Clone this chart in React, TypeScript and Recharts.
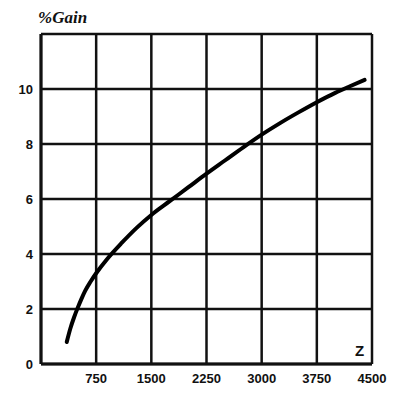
import { LineChart, Line, XAxis, YAxis, CartesianGrid } from "recharts";

// Z values
const zValues = [350, 400, 450, 500, 550, 600, 675, 750, 900, 1100, 1300, 1500, 1750, 2000, 2250, 2500, 2750, 3000, 3250, 3500, 3750, 4000, 4200, 4400];
// % gain at each Z
const gainValues = [0.8, 1.3, 1.7, 2.05, 2.37, 2.66, 3.0, 3.3, 3.82, 4.41, 4.95, 5.42, 5.92, 6.42, 6.92, 7.4, 7.88, 8.34, 8.76, 9.15, 9.52, 9.86, 10.1, 10.33];

const xTicks = [0, 750, 1500, 2250, 3000, 3750, 4500];
const yTicks = [0, 2, 4, 6, 8, 10, 12];

const data = zValues.map((z, i) => ({ z, gain: gainValues[i] }));

const tickStyle = {
  fontSize: 13,
  fontWeight: 700,
  fill: "#111",
  fontFamily: "'Liberation Sans', Arial, sans-serif",
};

export default function App() {
  return (
    <div
      style={{
        position: "absolute",
        left: 0,
        top: 0,
        width: 402,
        height: 396,
        background: "#fff",
      }}
    >
      <LineChart
        width={402}
        height={396}
        data={data}
        margin={{ top: 34, right: 30, bottom: 0, left: 0 }}
      >
        <CartesianGrid stroke="#111" strokeWidth={2.5} />
        <XAxis
          dataKey="z"
          type="number"
          domain={[0, 4500]}
          ticks={xTicks}
          tickFormatter={(v: number) => (v === 0 ? "" : String(v))}
          height={32}
          tickLine={false}
          tickMargin={4}
          axisLine={{ stroke: "#111", strokeWidth: 3 }}
          tick={tickStyle}
        />
        <YAxis
          type="number"
          domain={[0, 12]}
          ticks={yTicks}
          tickFormatter={(v: number) => (v === 12 ? "" : String(v))}
          width={41}
          tickLine={false}
          axisLine={{ stroke: "#111", strokeWidth: 3 }}
          tick={tickStyle}
        />
        <Line
          dataKey="gain"
          type="monotone"
          stroke="#000"
          strokeWidth={4}
          strokeLinecap="round"
          dot={false}
          isAnimationActive={false}
        />
      </LineChart>
      <div
        style={{
          position: "absolute",
          left: 38,
          top: 8,
          fontFamily: "'Liberation Serif', serif",
          fontStyle: "italic",
          fontWeight: 700,
          fontSize: 17,
          color: "#111",
        }}
      >
        %Gain
      </div>
      <div
        style={{
          position: "absolute",
          left: 355,
          top: 342,
          fontFamily: "'Liberation Sans', Arial, sans-serif",
          fontWeight: 700,
          fontSize: 15,
          color: "#111",
        }}
      >
        Z
      </div>
    </div>
  );
}
